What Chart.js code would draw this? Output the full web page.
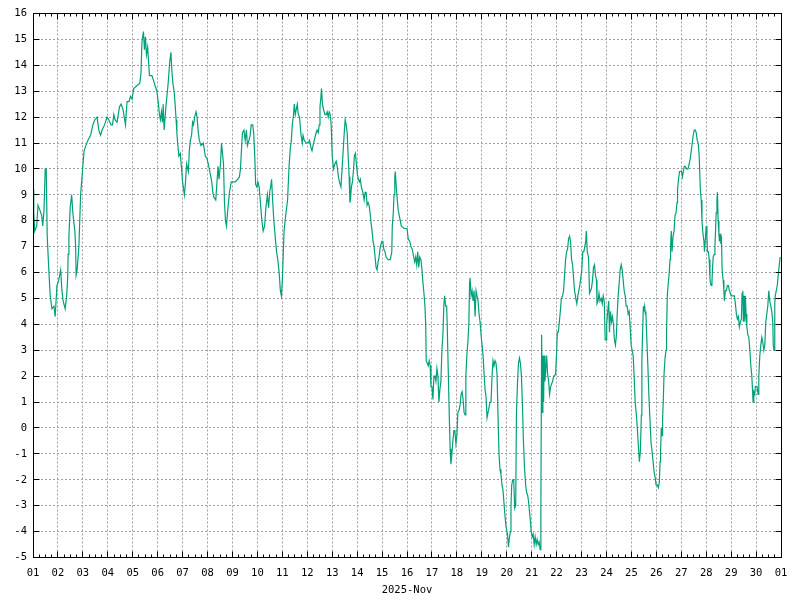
<!DOCTYPE html>
<html>
<head>
<meta charset="utf-8">
<title>2025-Nov</title>
<script src="https://cdn.jsdelivr.net/npm/chart.js@4.4.1/dist/chart.umd.min.js"></script>
<style>
  html, body { margin: 0; padding: 0; background: #fff; }
  #wrap { width: 800px; height: 600px; }
</style>
</head>
<body>
<div id="wrap"><canvas id="chart" width="800" height="600"></canvas></div>
<script>
// x = days since 2025-11-01 00:00
const dayOffsets = [
  0.00, 0.03, 0.07, 0.15, 0.20, 0.28, 0.35, 0.39, 0.44, 0.49,
  0.53, 0.57, 0.63, 0.69, 0.76, 0.84, 0.89, 0.96, 1.03, 1.11,
  1.16, 1.21, 1.29, 1.35, 1.39, 1.41, 1.44, 1.49, 1.55, 1.59,
  1.63, 1.68, 1.71, 1.73, 1.77, 1.84, 1.91, 1.99, 2.05, 2.12,
  2.20, 2.31, 2.40, 2.48, 2.57, 2.64, 2.71, 2.77, 2.87, 2.97,
  3.04, 3.13, 3.19, 3.24, 3.29, 3.37, 3.47, 3.53, 3.61, 3.71,
  3.77, 3.85, 3.91, 3.97, 4.04, 4.15, 4.28, 4.33, 4.37, 4.43,
  4.47, 4.51, 4.55, 4.60, 4.67, 4.77, 4.84, 4.90, 4.97, 5.03,
  5.07, 5.11, 5.15, 5.19, 5.22, 5.26, 5.33, 5.37, 5.42, 5.48,
  5.53, 5.57, 5.61, 5.66, 5.70, 5.74, 5.77, 5.80, 5.85, 5.91,
  5.95, 6.00, 6.07, 6.11, 6.16, 6.23, 6.27, 6.31, 6.36, 6.40,
  6.44, 6.48, 6.54, 6.58, 6.62, 6.67, 6.74, 6.83, 6.91, 6.98,
  7.05, 7.11, 7.17, 7.21, 7.26, 7.33, 7.38, 7.42, 7.46, 7.52,
  7.56, 7.60, 7.64, 7.68, 7.72, 7.76, 7.80, 7.84, 7.88, 7.95,
  8.03, 8.11, 8.21, 8.28, 8.32, 8.36, 8.40, 8.46, 8.51, 8.56,
  8.60, 8.66, 8.71, 8.75, 8.81, 8.85, 8.89, 8.93, 8.98, 9.02,
  9.07, 9.13, 9.18, 9.23, 9.29, 9.34, 9.40, 9.45, 9.49, 9.53,
  9.57, 9.61, 9.66, 9.72, 9.77, 9.83, 9.88, 9.92, 9.96, 10.00,
  10.03, 10.07, 10.11, 10.16, 10.21, 10.27, 10.32, 10.36, 10.40, 10.45,
  10.48, 10.52, 10.56, 10.60, 10.64, 10.69, 10.75, 10.80, 10.83, 10.88,
  10.96, 11.04, 11.09, 11.13, 11.19, 11.23, 11.28, 11.33, 11.39, 11.44,
  11.48, 11.51, 11.55, 11.57, 11.61, 11.65, 11.71, 11.76, 11.80, 11.84,
  11.88, 11.92, 11.96, 12.00, 12.05, 12.11, 12.16, 12.20, 12.25, 12.29,
  12.35, 12.39, 12.44, 12.49, 12.52, 12.56, 12.60, 12.64, 12.68, 12.71,
  12.73, 12.77, 12.81, 12.85, 12.89, 12.93, 12.97, 13.01, 13.05, 13.09,
  13.13, 13.17, 13.23, 13.28, 13.32, 13.36, 13.40, 13.44, 13.48, 13.52,
  13.56, 13.60, 13.64, 13.68, 13.72, 13.76, 13.80, 13.84, 13.88, 13.93,
  13.99, 14.03, 14.07, 14.12, 14.16, 14.24, 14.33, 14.39, 14.41, 14.45,
  14.48, 14.51, 14.53, 14.57, 14.61, 14.65, 14.69, 14.73, 14.77, 14.89,
  15.00, 15.05, 15.11, 15.16, 15.21, 15.27, 15.31, 15.35, 15.39, 15.43,
  15.47, 15.51, 15.56, 15.60, 15.64, 15.68, 15.72, 15.75, 15.77, 15.81,
  15.85, 15.89, 15.93, 15.96, 16.00, 16.04, 16.08, 16.12, 16.16, 16.20,
  16.24, 16.28, 16.32, 16.36, 16.40, 16.44, 16.48, 16.51, 16.55, 16.59,
  16.61, 16.65, 16.69, 16.73, 16.76, 16.80, 16.84, 16.88, 16.92, 16.96,
  17.00, 17.04, 17.09, 17.13, 17.17, 17.21, 17.25, 17.29, 17.33, 17.36,
  17.40, 17.44, 17.48, 17.51, 17.53, 17.57, 17.61, 17.65, 17.69, 17.73,
  17.77, 17.81, 17.85, 17.89, 17.93, 17.97, 18.01, 18.05, 18.09, 18.13,
  18.17, 18.21, 18.25, 18.29, 18.33, 18.37, 18.41, 18.45, 18.49, 18.53,
  18.57, 18.61, 18.65, 18.69, 18.73, 18.77, 18.81, 18.85, 18.89, 18.93,
  18.97, 19.03, 19.07, 19.11, 19.15, 19.17, 19.20, 19.24, 19.28, 19.32,
  19.36, 19.39, 19.43, 19.47, 19.51, 19.55, 19.59, 19.63, 19.67, 19.71,
  19.76, 19.80, 19.84, 19.87, 19.91, 19.95, 19.98, 20.02, 20.06, 20.10,
  20.14, 20.18, 20.22, 20.26, 20.30, 20.34, 20.37, 20.40, 20.42, 20.45,
  20.48, 20.50, 20.53, 20.56, 20.60, 20.64, 20.68, 20.72, 20.76, 20.80,
  20.84, 20.88, 20.92, 20.96, 21.00, 21.03, 21.07, 21.11, 21.15, 21.19,
  21.24, 21.28, 21.32, 21.36, 21.40, 21.44, 21.48, 21.52, 21.56, 21.60,
  21.64, 21.68, 21.72, 21.77, 21.81, 21.85, 21.89, 21.93, 21.97, 22.01,
  22.05, 22.09, 22.13, 22.17, 22.19, 22.23, 22.28, 22.32, 22.36, 22.40,
  22.44, 22.48, 22.52, 22.56, 22.60, 22.62, 22.66, 22.70, 22.74, 22.79,
  22.83, 22.87, 22.91, 22.95, 22.99, 23.01, 23.05, 23.09, 23.12, 23.16,
  23.20, 23.24, 23.28, 23.32, 23.36, 23.40, 23.43, 23.47, 23.51, 23.55,
  23.59, 23.63, 23.67, 23.71, 23.75, 23.79, 23.83, 23.87, 23.91, 23.95,
  23.99, 24.03, 24.07, 24.11, 24.15, 24.19, 24.23, 24.28, 24.32, 24.36,
  24.40, 24.42, 24.45, 24.48, 24.50, 24.53, 24.56, 24.58, 24.62, 24.66,
  24.70, 24.74, 24.79, 24.83, 24.87, 24.91, 24.95, 24.99, 25.04, 25.08,
  25.12, 25.15, 25.17, 25.20, 25.23, 25.25, 25.28, 25.31, 25.35, 25.39,
  25.41, 25.44, 25.47, 25.51, 25.55, 25.57, 25.60, 25.63, 25.67, 25.71,
  25.75, 25.79, 25.83, 25.85, 25.89, 25.93, 25.97, 26.01, 26.05, 26.08,
  26.12, 26.16, 26.21, 26.27, 26.32, 26.36, 26.40, 26.44, 26.48, 26.52,
  26.56, 26.60, 26.64, 26.68, 26.72, 26.76, 26.80, 26.83, 26.87, 26.91,
  26.93, 26.96, 27.00, 27.03, 27.05, 27.09, 27.12, 27.15, 27.17, 27.20,
  27.23, 27.25, 27.28, 27.32, 27.35, 27.37, 27.40, 27.43, 27.45, 27.48,
  27.51, 27.53, 27.56, 27.59, 27.61, 27.64, 27.68, 27.71, 27.73, 27.77,
  27.81, 27.85, 27.89, 27.93, 28.00, 28.09, 28.13, 28.17, 28.21, 28.25,
  28.29, 28.33, 28.37, 28.41, 28.44, 28.47, 28.49, 28.52, 28.55, 28.57,
  28.60, 28.63, 28.67, 28.71, 28.75, 28.79, 28.83, 28.85, 28.88, 28.91,
  28.95, 28.97, 29.01, 29.04, 29.08, 29.11, 29.15, 29.19, 29.23, 29.27,
  29.31, 29.35, 29.39, 29.43, 29.47, 29.51, 29.55, 29.59, 29.63, 29.67,
  29.69, 29.72, 29.75, 29.77, 29.81, 29.85, 29.89, 29.93, 29.97
]

const temperatures = [
  9.2, 8.3, 7.6, 7.8, 8.6, 8.4, 8.2, 7.8, 8.4, 10.0,
  10.0, 7.4, 6.2, 5.1, 4.6, 4.7, 4.3, 5.5, 5.7, 6.1,
  5.3, 4.9, 4.6, 5.1, 5.8, 6.7, 7.4, 8.5, 9.0, 8.4,
  8.0, 7.6, 7.0, 5.9, 6.1, 7.0, 9.0, 10.0, 10.7, 10.9,
  11.1, 11.3, 11.7, 11.9, 12.0, 11.5, 11.3, 11.5, 11.7, 12.0,
  11.9, 11.7, 11.7, 12.1, 11.9, 11.8, 12.4, 12.5, 12.3, 11.7,
  12.6, 12.6, 12.8, 12.7, 13.1, 13.2, 13.3, 13.7, 14.9, 15.3,
  14.6, 15.1, 14.4, 14.7, 13.6, 13.6, 13.4, 13.2, 13.0, 12.5,
  12.1, 11.9, 12.2, 11.8, 12.5, 11.5, 12.4, 12.8, 13.3, 14.1,
  14.5, 13.8, 13.3, 13.0, 12.5, 11.9, 11.4, 11.0, 10.5, 10.6,
  10.1, 9.5, 9.0, 9.4, 10.2, 9.9, 10.7, 11.1, 11.3, 11.8,
  11.7, 12.0, 12.2, 12.0, 11.5, 11.1, 10.9, 11.0, 10.5, 10.4,
  10.1, 9.8, 9.5, 9.1, 8.9, 8.8, 9.5, 10.1, 9.6, 10.2,
  11.0, 10.6, 10.2, 8.7, 8.0, 7.8, 8.3, 8.7, 9.1, 9.5,
  9.5, 9.5, 9.6, 9.7, 10.0, 10.7, 11.4, 11.5, 11.1, 11.5,
  10.9, 11.1, 11.3, 11.7, 11.7, 11.4, 10.6, 9.4, 9.3, 9.5,
  9.3, 8.6, 8.0, 7.6, 7.8, 8.5, 9.0, 8.5, 9.1, 9.3,
  9.6, 8.8, 8.0, 7.3, 6.8, 6.4, 5.9, 5.3, 5.1, 5.7,
  6.5, 7.6, 8.0, 8.4, 8.8, 10.1, 10.8, 11.1, 11.7, 12.1,
  12.5, 12.1, 12.3, 12.5, 12.1, 12.0, 11.3, 11.0, 11.3, 11.1,
  11.0, 11.0, 11.1, 10.9, 10.7, 10.9, 11.1, 11.3, 11.5, 11.4,
  11.7, 12.4, 12.8, 13.1, 12.5, 12.3, 12.1, 12.1, 12.2, 12.0,
  12.2, 12.1, 11.7, 10.5, 10.0, 10.2, 10.3, 10.1, 9.7, 9.5,
  9.3, 9.9, 10.7, 11.5, 11.9, 11.7, 11.4, 10.5, 9.7, 8.7,
  8.8, 9.3, 9.5, 9.9, 10.5, 10.6, 10.2, 9.8, 9.6, 9.5,
  9.6, 9.3, 9.1, 8.8, 9.1, 9.1, 8.6, 8.7, 8.6, 8.3,
  7.9, 7.6, 7.2, 7.0, 6.6, 6.2, 6.1, 6.4, 6.6, 7.0,
  7.2, 7.2, 6.9, 6.8, 6.6, 6.5, 6.5, 6.8, 7.8, 8.3,
  9.0, 9.7, 9.9, 9.3, 8.8, 8.4, 8.2, 8.0, 7.8, 7.7,
  7.7, 7.3, 7.2, 7.0, 6.9, 6.6, 6.4, 6.6, 6.3, 6.8,
  6.2, 6.6, 6.5, 6.1, 5.6, 5.2, 4.7, 4.0, 2.6, 2.5,
  2.4, 2.6, 2.4, 1.6, 1.6, 1.1, 2.0, 2.0, 1.8, 2.3,
  2.0, 1.0, 1.5, 1.8, 3.0, 3.6, 4.8, 5.1, 4.7, 4.7,
  4.1, 2.4, 0.7, -0.8, -1.4, -1.0, -0.5, -0.1, -0.1, -0.6,
  -0.3, 0.6, 0.7, 0.9, 1.3, 1.4, 1.1, 0.6, 0.5, 2.0,
  2.8, 3.3, 4.0, 5.6, 5.8, 5.1, 5.3, 4.9, 5.3, 4.3,
  5.3, 5.1, 4.9, 4.4, 4.1, 3.6, 3.2, 2.8, 2.1, 1.5,
  1.2, 0.4, 0.6, 0.8, 1.0, 1.0, 2.0, 2.6, 2.4, 2.6,
  2.5, 2.1, 0.5, -1.0, -1.6, -1.8, -2.2, -2.4, -2.9, -3.4,
  -3.8, -4.1, -4.6, -4.2, -4.0, -3.0, -2.2, -2.0, -2.0, -3.1,
  -3.0, 0.6, 1.7, 2.5, 2.7, 2.5, 2.0, 0.9, -0.5, -1.5,
  -2.2, -2.5, -2.6, -2.8, -3.2, -3.6, -4.0, -4.2, -4.1, -4.5,
  -4.2, -4.5, -4.3, -4.5, -4.4, -4.7, -3.0, 3.6, 0.6, 2.8,
  1.0, 2.8, 1.8, 2.1, 2.8, 2.1, 1.8, 1.3, 1.6, 1.7,
  1.8, 2.0, 2.0, 2.1, 2.9, 3.7, 3.7, 4.1, 4.5, 5.0,
  5.1, 5.3, 5.9, 6.5, 6.8, 6.9, 7.3, 7.4, 7.2, 6.5,
  6.3, 5.8, 5.3, 5.0, 4.8, 5.1, 5.3, 5.5, 5.8, 6.1,
  6.8, 6.8, 7.0, 7.2, 7.6, 6.8, 6.6, 5.2, 5.3, 5.4,
  5.7, 6.2, 6.3, 5.9, 5.7, 4.8, 4.9, 5.2, 4.9, 5.0,
  4.8, 5.1, 4.9, 3.4, 3.4, 4.0, 4.5, 4.9, 3.7, 4.5,
  4.1, 4.3, 4.0, 3.4, 3.2, 3.6, 4.4, 5.1, 5.6, 6.1,
  6.3, 6.1, 5.7, 5.3, 5.1, 4.7, 4.7, 4.4, 4.5, 3.9,
  3.2, 3.0, 2.8, 2.0, 1.0, 0.6, 0.1, -0.7, -1.3, -0.9,
  0.5, 2.6, 3.7, 4.7, 4.5, 4.7, 4.4, 4.5, 3.4, 2.4,
  1.3, 0.4, -0.6, -0.9, -1.3, -1.7, -1.9, -2.2, -2.2, -2.3,
  -2.1, -1.3, -0.9, 0.0, -0.3, 0.3, 1.1, 2.1, 2.7, 3.0,
  3.7, 5.1, 5.5, 5.9, 6.5, 7.0, 7.6, 6.8, 7.4, 7.6,
  8.2, 8.3, 8.7, 9.2, 9.6, 9.9, 9.9, 9.9, 9.7, 9.9,
  10.1, 10.1, 10.0, 10.0, 10.2, 10.4, 10.7, 11.0, 11.3, 11.5,
  11.5, 11.4, 11.1, 11.0, 10.5, 9.3, 8.8, 8.0, 7.5, 7.2,
  6.8, 7.2, 7.8, 7.4, 6.8, 6.8, 6.5, 5.8, 5.6, 5.5,
  5.6, 6.1, 6.6, 6.7, 7.0, 7.5, 8.3, 8.8, 9.1, 8.0,
  7.5, 7.2, 7.5, 7.1, 7.4, 6.1, 5.7, 5.3, 4.9, 5.3,
  5.3, 5.5, 5.5, 5.3, 5.1, 5.1, 5.1, 4.8, 4.4, 4.2,
  4.3, 3.9, 4.1, 4.2, 5.2, 5.3, 4.1, 5.1, 4.1, 5.1,
  4.4, 3.9, 3.6, 3.5, 3.0, 2.4, 2.0, 1.6, 1.0, 1.4,
  1.3, 1.6, 1.6, 1.6, 1.3, 2.0, 2.8, 3.2, 3.5, 3.3,
  3.0, 3.2, 4.1, 4.4, 4.7, 5.3, 4.9, 4.7, 4.5, 4.1,
  3.2, 3.0, 4.8, 5.1, 5.3, 5.5, 5.9, 6.3, 6.6
]

// tick labels along the bottom: day of month, last one is 1 December
const dayLabels = [
  "01", "02", "03", "04", "05", "06", "07", "08", "09", "10",
  "11", "12", "13", "14", "15", "16", "17", "18", "19", "20",
  "21", "22", "23", "24", "25", "26", "27", "28", "29", "30", "01"
]
const yTicks = [-5, -4, -3, -2, -1, 0, 1, 2, 3, 4, 5, 6, 7, 8, 9, 10, 11, 12, 13, 14, 15, 16]
const monthTitle = "2025-Nov"

const points = dayOffsets.map((d, i) => ({ x: d, y: temperatures[i] }))

const FONT = "'DejaVu Sans Mono', 'Liberation Mono', monospace"
const GRID = "#a0a0a0"

// frame round the plot and the little inward ticks on all four sides
const frameTicks = {
  id: "frameTicks",
  afterDraw(chart) {
    const { ctx, chartArea: a, scales } = chart
    const L = Math.floor(a.left) + 0.5
    const R = Math.floor(a.right) + 0.5
    const T = Math.floor(a.top) + 0.5
    const B = Math.floor(a.bottom) + 0.5
    ctx.save()
    ctx.strokeStyle = "#000"
    ctx.lineWidth = 1
    ctx.beginPath()
    yTicks.forEach((v) => {
      const y = Math.floor(scales.y.getPixelForValue(v)) + 0.5
      ctx.moveTo(L, y); ctx.lineTo(L + 6, y)
      ctx.moveTo(R, y); ctx.lineTo(R - 6, y)
    })
    const lastDay = dayLabels.length - 1
    for (let q = 0; q <= lastDay * 4; q++) {
      const x = Math.floor(scales.x.getPixelForValue(q / 4)) + 0.5
      const len = q % 4 === 0 ? 6 : 3
      ctx.moveTo(x, B); ctx.lineTo(x, B - len)
      ctx.moveTo(x, T); ctx.lineTo(x, T + len)
    }
    ctx.stroke()
    ctx.strokeRect(L, T, R - L, B - T)
    ctx.restore()
  }
}

new Chart(document.getElementById("chart"), {
  type: "line",
  data: {
    datasets: [{
      data: points,
      borderColor: "#00a07a",
      borderWidth: 1.2,
      pointRadius: 0,
      fill: false,
      tension: 0
    }]
  },
  options: {
    responsive: false,
    animation: false,
    devicePixelRatio: 1,
    layout: { padding: { left: 0, right: 19, top: 13.5, bottom: 0 } },
    plugins: { legend: { display: false }, tooltip: { enabled: false } },
    scales: {
      x: {
        type: "linear",
        min: 0,
        max: dayLabels.length - 1,
        afterFit: (s) => { s.height = 42.5 },
        afterBuildTicks: (s) => { s.ticks = dayLabels.map((_, i) => ({ value: i })) },
        grid: { color: GRID, lineWidth: 1, drawTicks: false },
        border: { display: false, dash: [2, 2] },
        ticks: {
          autoSkip: false,
          maxRotation: 0,
          padding: 9,
          color: "#000",
          font: { family: FONT, size: 10.5 },
          callback: (v) => dayLabels[v]
        },
        title: {
          display: true,
          text: monthTitle,
          color: "#000",
          font: { family: FONT, size: 10.5 },
          padding: { top: 0, bottom: 3 }
        }
      },
      y: {
        min: yTicks[0],
        max: yTicks[yTicks.length - 1],
        afterFit: (s) => { s.width = 33 },
        afterBuildTicks: (s) => { s.ticks = yTicks.map((v) => ({ value: v })) },
        grid: { color: GRID, lineWidth: 1, drawTicks: false },
        border: { display: false, dash: [2, 2] },
        ticks: {
          padding: 6,
          color: "#000",
          font: { family: FONT, size: 10.5 },
          callback: (v) => String(v)
        }
      }
    }
  },
  plugins: [frameTicks]
})
</script>
</body>
</html>
